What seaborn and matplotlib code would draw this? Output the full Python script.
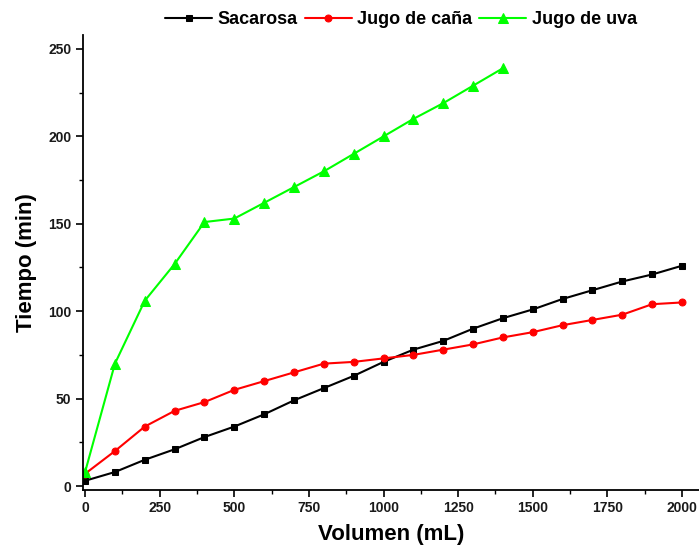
import numpy as np
import pandas as pd
from matplotlib import pyplot as plt
from matplotlib.ticker import MultipleLocator, AutoMinorLocator
import seaborn as sns

sns.set_style("white")
plt.rcParams['font.family'] = ['Liberation Sans', 'DejaVu Sans']
plt.rcParams['font.weight'] = 'bold'
plt.rcParams['text.color'] = 'black'
plt.rcParams['axes.labelcolor'] = 'black'

# volumes (mL)
vol_sacarosa = [0, 100, 200, 300, 400, 500, 600, 700, 800, 900, 1000,
                1100, 1200, 1300, 1400, 1500, 1600, 1700, 1800, 1900, 2000]
vol_cana = vol_sacarosa
vol_uva = [0, 100, 200, 300, 400, 500, 600, 700, 800, 900, 1000,
           1100, 1200, 1300, 1400]

# times (min)
t_sacarosa = [3, 8, 15, 21, 28, 34, 41, 49, 56, 63, 71,
              78, 83, 90, 96, 101, 107, 112, 117, 121, 126]
t_cana = [7, 20, 34, 43, 48, 55, 60, 65, 70, 71, 73,
          75, 78, 81, 85, 88, 92, 95, 98, 104, 105]
t_uva = [8, 70, 106, 127, 151, 153, 162, 171, 180, 190, 200,
         210, 219, 229, 239]

series = [
    ("Sacarosa", vol_sacarosa, t_sacarosa, "black", "s", 5),
    ("Jugo de caña", vol_cana, t_cana, "red", "o", 5),
    ("Jugo de uva", vol_uva, t_uva, "#00ff00", "^", 7),
]

fig = plt.figure(figsize=(6.99, 5.48), dpi=100)
ax = fig.add_axes([83 / 699, 1 - 489.5 / 548, 616 / 699, 454.5 / 548])

for label, x, y, color, marker, ms in series:
    df = pd.DataFrame({"Volumen": x, "Tiempo": y})
    sns.lineplot(data=df, x="Volumen", y="Tiempo", ax=ax, color=color,
                 marker=marker, markersize=ms, markeredgecolor=color,
                 linewidth=1.5, label=label, legend=False)

ax.set_xlim(-7, 2057)
ax.set_ylim(-2, 258)
ax.xaxis.set_major_locator(MultipleLocator(250))
ax.xaxis.set_minor_locator(AutoMinorLocator(2))
ax.yaxis.set_major_locator(MultipleLocator(50))
ax.yaxis.set_minor_locator(AutoMinorLocator(2))
ax.tick_params(which='major', direction='out', length=5, width=1.2,
               labelsize=10, bottom=True, left=True, colors='black')
ax.tick_params(which='minor', direction='out', length=3, width=1.0,
               bottom=True, left=True, colors='black')
for lab in ax.get_xticklabels() + ax.get_yticklabels():
    lab.set_fontweight('bold')
    lab.set_color('#1a1a1a')

for side in ['top', 'right']:
    ax.spines[side].set_visible(False)
for side in ['left', 'bottom']:
    ax.spines[side].set_color('black')
    ax.spines[side].set_linewidth(1.3)

ax.set_xlabel("Volumen (mL)", fontsize=16, fontweight='bold', labelpad=6,
              color='black')
ax.set_ylabel("Tiempo (min)", fontsize=16, fontweight='bold', labelpad=8,
              color='black')

handles, labels = ax.get_legend_handles_labels()
fig.legend(handles, labels, loc='center', bbox_to_anchor=(401 / 699, 1 - 20 / 548),
           ncol=3, frameon=False, prop={'weight': 'bold', 'size': 13},
           handlelength=2.6, handletextpad=0.3, columnspacing=0.4)

fig.savefig("out.png", dpi=100, facecolor='white')
